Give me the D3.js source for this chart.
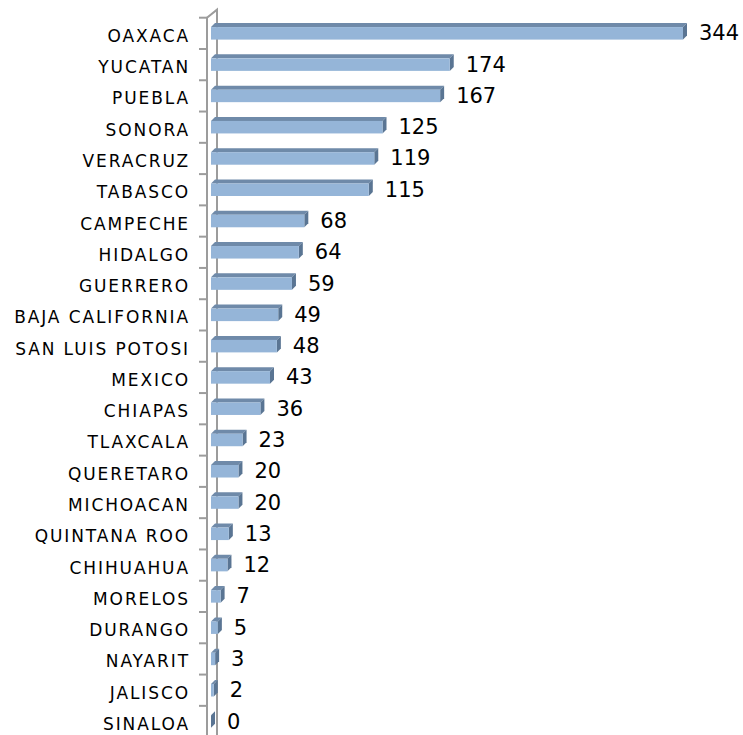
<!DOCTYPE html>
<html>
<head>
<meta charset="utf-8">
<script src="https://cdn.jsdelivr.net/npm/d3@7"></script>
<style>
  html, body { margin: 0; padding: 0; background: #fff; }
  svg { display: block; }
</style>
</head>
<body>
<svg id="chart" width="743" height="735"></svg>
<script>
const categories = ["OAXACA","YUCATAN","PUEBLA","SONORA","VERACRUZ","TABASCO","CAMPECHE","HIDALGO","GUERRERO","BAJA CALIFORNIA","SAN LUIS POTOSI","MEXICO","CHIAPAS","TLAXCALA","QUERETARO","MICHOACAN","QUINTANA ROO","CHIHUAHUA","MORELOS","DURANGO","NAYARIT","JALISCO","SINALOA"];
const values = [344,174,167,125,119,115,68,64,59,49,48,43,36,23,20,20,13,12,7,5,3,2,0];

const svg = d3.select("#chart");
const W = 743, H = 735;

const wallX = 207, wallDepthX = 10, wallDepthY = 8;
const barDX = 4, barDY = 4;

const x = d3.scaleLinear().domain([0, 344]).range([211, 683]);
const y = d3.scaleBand().domain(categories).range([17.7, 17.7 + 23 * 31.28])
  .paddingInner(0.6).paddingOuter(0.3);
const step = y.step();

// wall (axis) lines
const wallColor = "#9c9c9c";
const g = svg.append("g");
g.append("path")
  .attr("d", `M${wallX},${H} V${y.range()[0]} L${wallX + wallDepthX},${y.range()[0] - wallDepthY} V${H}`)
  .attr("fill", "none").attr("stroke", wallColor).attr("stroke-width", 2);

// tick marks at band boundaries
const tickYs = d3.range(categories.length + 1).map(i => y.range()[0] + i * step);
g.selectAll("line.tick").data(tickYs).join("line")
  .attr("class", "tick")
  .attr("x1", wallX - 8).attr("x2", wallX)
  .attr("y1", d => d).attr("y2", d => d)
  .attr("stroke", wallColor).attr("stroke-width", 2);

const data = categories.map((c, i) => ({ c, v: values[i] }));

const bars = svg.append("g").selectAll("g.bar").data(data).join("g").attr("class", "bar");

// top face
bars.append("path")
  .attr("d", d => {
    const y0 = y(d.c), x0 = x(0), x1 = x(d.v);
    return `M${x0},${y0} L${x0 + barDX},${y0 - barDY} L${x1 + barDX},${y0 - barDY} L${x1},${y0} Z`;
  })
  .attr("fill", "#6f8aa9");

// side face
bars.append("path")
  .attr("d", d => {
    const y0 = y(d.c), y1 = y0 + y.bandwidth(), x1 = x(d.v);
    return `M${x1},${y0} L${x1 + barDX},${y0 - barDY} L${x1 + barDX},${y1 - barDY} L${x1},${y1} Z`;
  })
  .attr("fill", "#5a7593");

// front face
bars.append("rect")
  .attr("x", x(0))
  .attr("y", d => y(d.c))
  .attr("width", d => Math.max(x(d.v) - x(0), 0))
  .attr("height", y.bandwidth())
  .attr("fill", "#95b5d8");

// category labels
svg.append("g").selectAll("text").data(data).join("text")
  .attr("x", 190)
  .attr("y", d => y(d.c) + y.bandwidth() / 2 + 8.5)
  .attr("text-anchor", "end")
  .attr("font-family", "DejaVu Sans")
  .attr("font-size", 17)
  .attr("letter-spacing", "1.9px")
  .attr("fill", "#000")
  .text(d => d.c);

// value labels
svg.append("g").selectAll("text").data(data).join("text")
  .attr("x", d => x(d.v) + 16)
  .attr("y", d => y(d.c) + y.bandwidth() / 2 + 7)
  .attr("font-family", "DejaVu Sans")
  .attr("font-size", 21)
  .attr("fill", "#000")
  .text(d => d.v);
</script>
</body>
</html>
